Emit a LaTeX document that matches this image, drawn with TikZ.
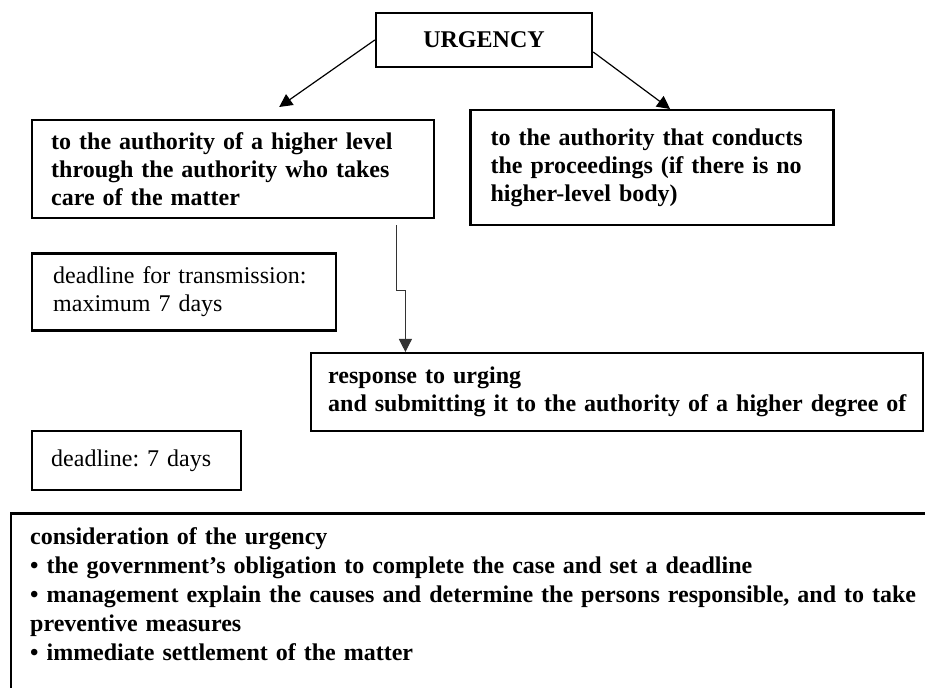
\documentclass[tikz,border=0pt]{standalone}
\usepackage{fontspec}
\setmainfont{Liberation Serif}
\usetikzlibrary{positioning, arrows.meta}
\frenchspacing

\begin{document}
\begin{tikzpicture}[x=0.5pt, y=-0.5pt, semithick,
	box/.style={draw, black, line width=1.2pt, inner ysep=0pt, align=left, font=\fontsize{12}{14}\selectfont\bfseries},
	plain/.style={box, font=\fontsize{12}{14}\selectfont},
	arr/.style={-{Triangle[length=6.5pt, width=6.5pt]}, line width=0.6pt}]
	\clip (0,0) rectangle (925,688);
	
	\node[box, align=center, minimum width=108pt, minimum height=27pt] (urg) at (484,40) {URGENCY};
	\node[box, anchor=north west, text width=182pt, inner xsep=9.5pt, minimum height=49pt] (higher) at (31,119) {to the authority of a higher level\\through the authority who takes\\care of the matter};
	\node[box, right=17pt of higher.north east, anchor=north west, yshift=5pt, text width=161.5pt, inner xsep=10pt, minimum height=57.5pt] (conduct) {to the authority that conducts\\the proceedings (if there is no\\higher-level body)};
	\node[plain, below=16.5pt of higher.south west, anchor=north west, text width=131pt, inner xsep=10.5pt, minimum height=38.5pt] (dl1) {deadline for transmission:\\maximum 7 days};
	\node[box, anchor=north west, text width=289pt, inner xsep=8.5pt, minimum height=39pt] (resp) at (310,352) {response to urging\\\mbox{and submitting it to the authority of a higher degree of}};
	\node[plain, below=49pt of dl1.south west, anchor=north west, text width=85.5pt, inner xsep=9.5pt, minimum height=29.5pt] (dl2) {deadline: 7 days};
	\node[box, below=10.5pt of dl2.south west, anchor=north west, xshift=-10.5pt, text width=460pt, inner xsep=9.5pt, inner ysep=7pt, text depth=100pt, font=\fontsize{12}{14.5}\selectfont\bfseries] (consider) {consideration of the urgency\\
		\textbullet{} the government's obligation to complete the case and set a deadline\\
		\textbullet{} management explain the causes and determine the persons responsible, and to take\\
		preventive measures\\
		\textbullet{} immediate settlement of the matter};
	
	\draw[arr] (urg.west) -> ([xshift=23pt, yshift=6pt]higher.north);
	\draw[arr] ([yshift=-6pt]urg.east) -> ([xshift=9pt]conduct.north);
	
	\draw[arr, line width=0.5pt, black!80] ([xshift=-19.5pt, yshift=-3pt]higher.south east) -- ++(0,65) -- ++(9,0) coordinate (jog) -- (jog |- resp.north);
	
	\end{tikzpicture}
\end{document}
